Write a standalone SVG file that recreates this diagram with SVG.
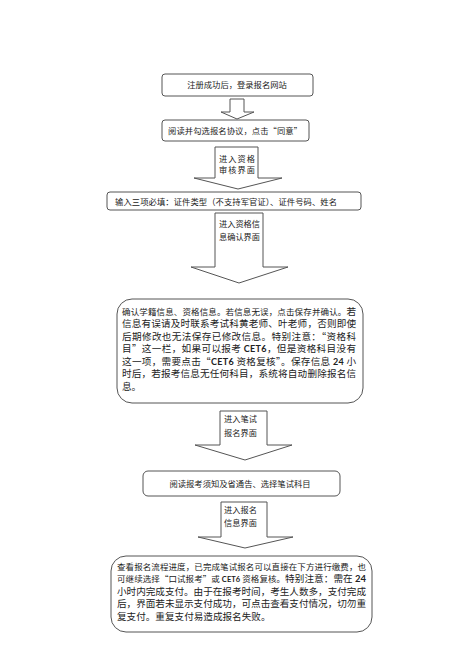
<svg xmlns="http://www.w3.org/2000/svg" width="474" height="670" viewBox="0 0 474 670">
<style>
.box{fill:#fff;stroke:#555;stroke-width:1}
.arr{fill:#fff;stroke:#555;stroke-width:1;stroke-linejoin:miter}
text{font-family:"Noto Sans CJK SC","Noto Sans",sans-serif;fill:#222}
.s{font-size:8.3px}
.lab{font-size:8.2px}
.m{font-size:9.6px}
.sm{font-size:8.5px}
.b{font-family:Lato,"Liberation Sans",sans-serif;font-weight:bold}
</style>
<rect width="474" height="670" fill="#fff"/>
<g id="connectors">
  <g id="a1"><path class="arr" d="M230,99 H244 V112 H254 L237,119 L221,112 H230 Z"/></g>
  <g id="a2"><path class="arr" d="M215,147 H258 V178 H282 L238,189 L194,178 H215 Z"/>
    <text class="lab" x="219" y="162" textLength="36" lengthAdjust="spacing">进入资格</text>
    <text class="lab" x="219" y="173" textLength="36" lengthAdjust="spacing">审核界面</text></g>
  <g id="a3"><path class="arr" d="M215,213 H263 V267 H288 L239,283 L191,267 H215 Z"/>
    <text class="lab" x="219" y="227" textLength="41" lengthAdjust="spacing">进入资格信</text>
    <text class="lab" x="219" y="240" textLength="41" lengthAdjust="spacing">息确认界面</text></g>
  <g id="a4"><path class="arr" d="M220,411 H267 V445 H292 L245,460 L195,445 H220 Z"/>
    <text class="lab" x="224" y="422" textLength="33" lengthAdjust="spacing">进入笔试</text>
    <text class="lab" x="224" y="436" textLength="33" lengthAdjust="spacing">报名界面</text></g>
  <g id="a5"><path class="arr" d="M221,502 H267 V537 H293 L245,548 L198,537 H221 Z"/>
    <text class="lab" x="224" y="513" textLength="33" lengthAdjust="spacing">进入报名</text>
    <text class="lab" x="224" y="526" textLength="33" lengthAdjust="spacing">信息界面</text></g>
</g>
<g id="n1">
  <rect class="box" x="162" y="74" width="151" height="22" rx="3"/>
  <text class="s" x="237" y="88" text-anchor="middle">注册成功后，登录报名网站</text>
</g>
<g id="n2">
  <rect class="box" x="162" y="120" width="147" height="21" rx="3"/>
  <text class="s" x="168" y="134" textLength="134" lengthAdjust="spacing">阅读并勾选报名协议，点击“同意”</text>
</g>
<g id="n3">
  <rect class="box" x="107" y="192" width="254" height="18" rx="3"/>
  <text class="s" x="115" y="205" textLength="222" lengthAdjust="spacing">输入三项必填：证件类型（不支持军官证）、证件号码、姓名</text>
</g>
<g id="n4">
  <rect class="box" x="117" y="299" width="246" height="104" rx="15"/>
  <text x="122" y="314.5" textLength="234" lengthAdjust="spacing"><tspan class="sm">确认学籍信息、资格信息。若信息无误，点击保存并确认。</tspan><tspan class="m">若</tspan></text>
  <text class="m" x="122" y="327" textLength="234" lengthAdjust="spacing">信息有误请及时联系考试科黄老师、叶老师，否则即使</text>
  <text class="m" x="122" y="339.5" textLength="234" lengthAdjust="spacing">后期修改也无法保存已修改信息。特别注意：“资格科</text>
  <text class="m" x="122" y="352" textLength="234" lengthAdjust="spacing">目”这一栏，如果可以报考 <tspan class="b" font-size="9">CET6</tspan>，但是资格科目没有</text>
  <text class="m" x="122" y="364.5" textLength="234" lengthAdjust="spacing">这一项，需要点击“<tspan class="b" font-size="9">CET6</tspan> 资格复核”。保存信息 <tspan class="b" font-size="9">24</tspan> 小</text>
  <text class="m" x="122" y="377" textLength="234" lengthAdjust="spacing">时后，若报考信息无任何科目，系统将自动删除报名信</text>
  <text class="m" x="122" y="389.5">息。</text>
</g>
<g id="n5">
  <rect class="box" x="143" y="471" width="197" height="25" rx="5"/>
  <text class="s" x="240" y="486.5" text-anchor="middle">阅读报考须知及省通告、选择笔试科目</text>
</g>
<g id="n6">
  <rect class="box" x="111" y="556" width="261" height="76" rx="15"/>
  <text class="sm" x="117" y="570" textLength="249" lengthAdjust="spacing">查看报名流程进度，已完成笔试报名可以直接在下方进行缴费，也</text>
  <text x="117" y="582" textLength="249" lengthAdjust="spacing"><tspan class="sm">可继续选择“口试报考”或 </tspan><tspan class="b" font-size="7.5">CET6</tspan><tspan class="sm"> 资格复核。</tspan><tspan class="m">特别注意：需在 </tspan><tspan class="b" font-size="9.5">24</tspan></text>
  <text class="m" x="117" y="594.5" textLength="249" lengthAdjust="spacing">小时内完成支付。由于在报考时间，考生人数多，支付完成</text>
  <text class="m" x="117" y="607" textLength="249" lengthAdjust="spacing">后，界面若未显示支付成功，可点击查看支付情况，切勿重</text>
  <text class="m" x="117" y="619.5">复支付。重复支付易造成报名失败。</text>
</g>
</svg>
